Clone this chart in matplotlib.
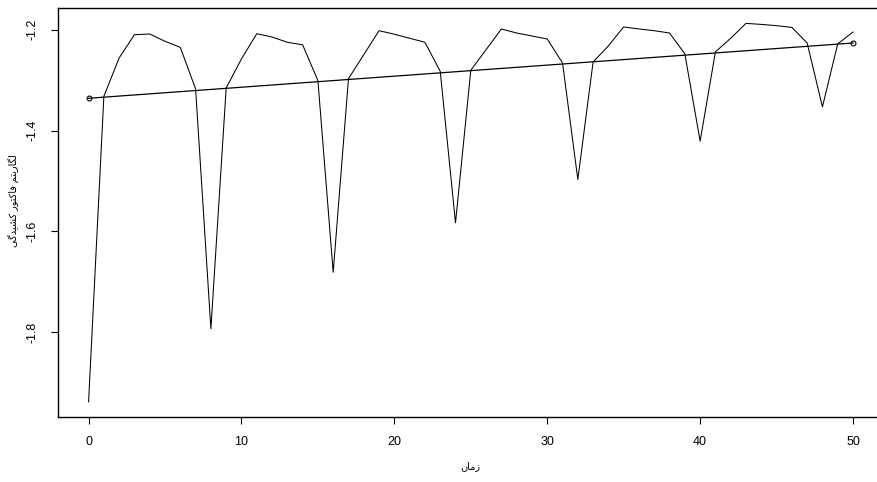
import numpy as np
import matplotlib
matplotlib.use("Agg")
import matplotlib.pyplot as plt

# data
time = list(range(51))
log_factor = [-1.938, -1.332, -1.256, -1.210, -1.2085, -1.223, -1.235, -1.3175, -1.793, -1.3155,
              -1.258, -1.208, -1.2145, -1.225, -1.230, -1.301, -1.681, -1.297, -1.2495, -1.202,
              -1.209, -1.217, -1.225, -1.2825, -1.583, -1.2805, -1.2396, -1.1986, -1.2066, -1.2125,
              -1.2185, -1.266, -1.497, -1.264, -1.232, -1.1946, -1.1986, -1.202, -1.2066, -1.248,
              -1.421, -1.244, -1.217, -1.1875, -1.1895, -1.192, -1.1955, -1.2264, -1.353, -1.228,
              -1.2046]
trend_x = [0, 50]
trend_y = [-1.336, -1.2264]
xticks = [0, 10, 20, 30, 40, 50]
yticks = [-1.8, -1.6, -1.4, -1.2]
xlabel = "زمان"
ylabel = "لگاریتم فاکتور کشیدگی"

# simple persian shaping (matplotlib has no complex text layout)
forms = {
    "ا": ("\uFE8D", "\uFE8E", None, None),
    "ر": ("\uFEAD", "\uFEAE", None, None),
    "ز": ("\uFEAF", "\uFEB0", None, None),
    "د": ("\uFEA9", "\uFEAA", None, None),
    "و": ("\uFEED", "\uFEEE", None, None),
    "ل": ("\uFEDD", "\uFEDE", "\uFEDF", "\uFEE0"),
    "م": ("\uFEE1", "\uFEE2", "\uFEE3", "\uFEE4"),
    "ن": ("\uFEE5", "\uFEE6", "\uFEE7", "\uFEE8"),
    "ت": ("\uFE95", "\uFE96", "\uFE97", "\uFE98"),
    "ف": ("\uFED1", "\uFED2", "\uFED3", "\uFED4"),
    "ش": ("\uFEB5", "\uFEB6", "\uFEB7", "\uFEB8"),
    "ک": ("\uFB8E", "\uFB8F", "\uFB90", "\uFB91"),
    "گ": ("\uFB92", "\uFB93", "\uFB94", "\uFB95"),
    "ی": ("\uFBFC", "\uFBFD", "\uFBFE", "\uFBFF"),
}


def shape(text):
    out = []
    for word in text.split(" "):
        chars = list(word)
        res = []
        for i, c in enumerate(chars):
            f = forms.get(c)
            if f is None:
                res.append(c)
                continue
            prev = forms.get(chars[i - 1]) if i > 0 else None
            joins_prev = prev is not None and prev[2] is not None
            nxt = forms.get(chars[i + 1]) if i + 1 < len(chars) else None
            joins_next = f[2] is not None and nxt is not None
            if joins_prev and joins_next:
                res.append(f[3])
            elif joins_prev:
                res.append(f[1])
            elif joins_next:
                res.append(f[2])
            else:
                res.append(f[0])
        out.append("".join(reversed(res)))
    return " ".join(reversed(out))


plt.rcParams["font.family"] = ["Liberation Sans", "DejaVu Sans"]

fig = plt.figure(figsize=(8.77, 4.82), dpi=100)
ax = fig.add_axes([58 / 877, 65 / 482, 825.6 / 877, 409 / 482])

ax.plot(time, log_factor, color="black", lw=0.75)
ax.plot(trend_x, trend_y, color="black", lw=0.9, marker="o", ms=3.5,
        mfc="none", mew=0.8)

ax.set_xlim(-2, 52)
ax.set_ylim(-1.968, -1.157)
ax.set_xticks(xticks)
ax.set_xticklabels([str(t) for t in xticks])
ax.set_yticks(yticks)
ax.set_yticklabels([f"{t:.1f}" for t in yticks], rotation=90, va="center")
ax.tick_params(direction="out", length=5, width=0.8, labelsize=9, pad=9)

for s in ax.spines.values():
    s.set_linewidth(1.0)

ax.set_xlabel(shape(xlabel), fontsize=7, labelpad=9)
ax.set_ylabel(shape(ylabel), fontsize=7)
ax.yaxis.set_label_coords(-0.046, 0.53)

fig.savefig("out.png", dpi=100)
